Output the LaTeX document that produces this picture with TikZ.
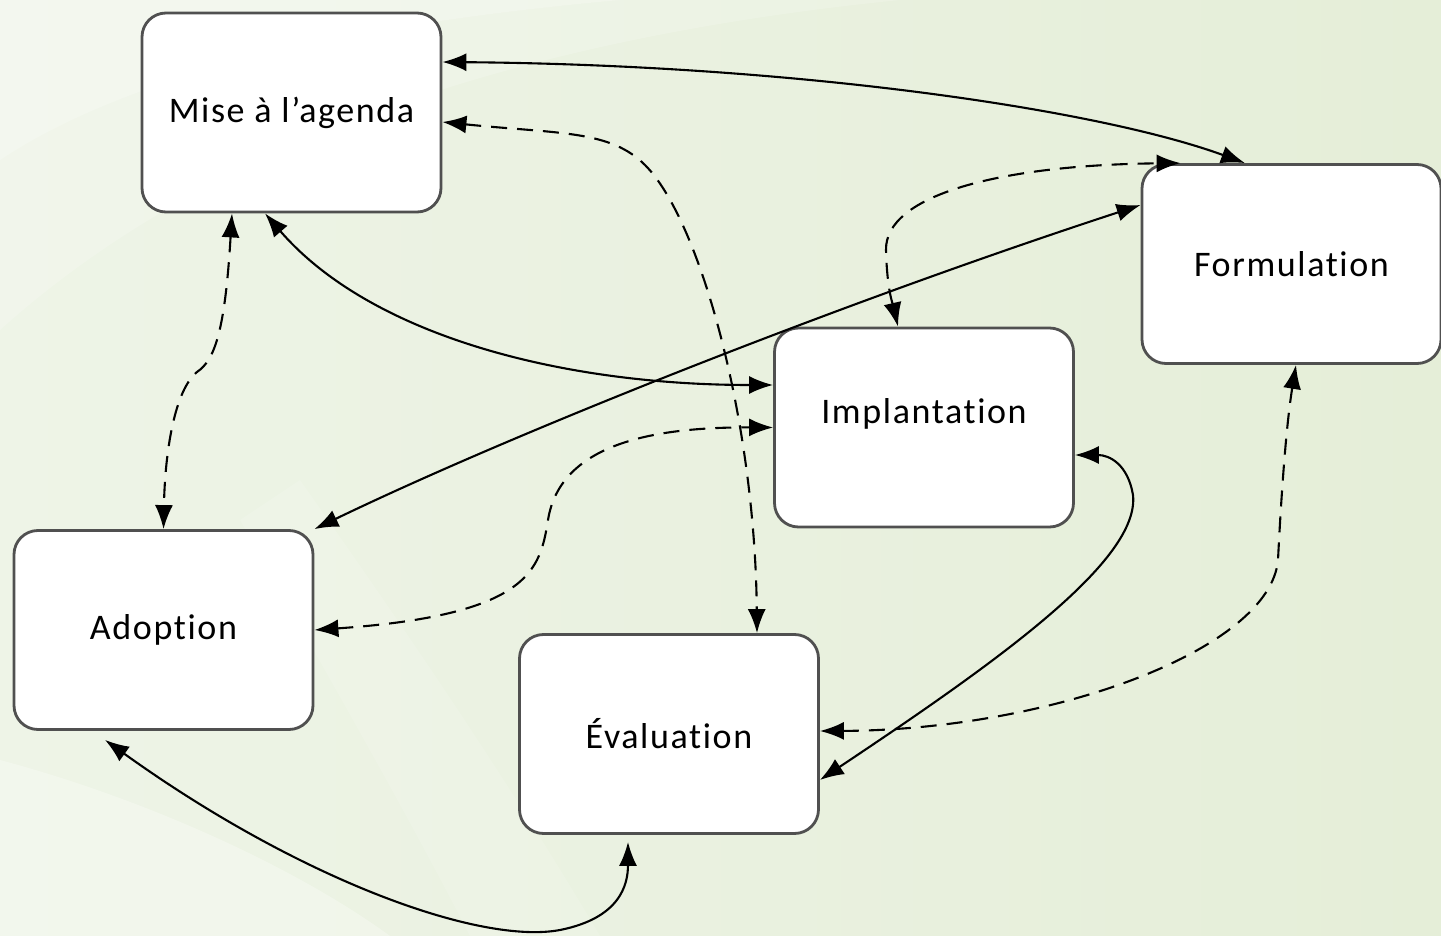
\documentclass[tikz,border=0pt]{standalone}
\usepackage{fontspec}
\setmainfont{Carlito}[LetterSpace=4.5,Ligatures=NoCommon]
\usetikzlibrary{arrows.meta,calc}
\definecolor{bgL}{HTML}{EEF4E7}
\definecolor{bgR}{HTML}{E5EED8}
\definecolor{boxline}{HTML}{505050}
\tikzset{tip/.tip={Latex[length=12pt,width=9pt]}}
\begin{document}
\begin{tikzpicture}[x=0.5pt,y=-0.5pt,
  stage/.style={draw=boxline,line width=1.4pt,fill=white,rounded corners=12pt,
    minimum width=149.5pt,minimum height=99.5pt,inner sep=0pt,
    font=\fontsize{18}{20}\selectfont},
  link/.style={line width=1.05pt,black,{tip}-{tip}},
  dlink/.style={link,dash pattern=on 8pt off 5pt}]
\useasboundingbox (0,0) rectangle (1441,936);
% background
\fill[left color=bgL,right color=bgR] (0,0) rectangle (1441,936);
\fill[white,opacity=0.35] (0,0) -- (620,0) .. controls (400,20) and (150,60) .. (0,160) -- cycle;
\fill[white,opacity=0.18] (0,160) .. controls (150,60) and (400,20) .. (620,0) -- (900,0) .. controls (500,40) and (200,150) .. (0,330) -- cycle;
\fill[white,opacity=0.28] (0,760) .. controls (150,800) and (300,870) .. (390,936) -- (0,936) -- cycle;
\fill[white,opacity=0.12] (300,480) .. controls (420,650) and (520,800) .. (600,936) -- (470,936) .. controls (400,800) and (330,680) .. (240,520) -- cycle;
% boxes
\node[stage] (mise) at (291.5,112.5) {Mise à l’agenda};
\node[stage] (form) at (1291.5,264) {Formulation};
\node[stage,label={[yshift=7pt,font=\fontsize{18}{20}\selectfont]center:Implantation}] (impl) at (924,427.5) {};
\node[stage] (adop) at (163.5,630) {Adoption};
\node[stage] (eval) at (669,734) {Évaluation};
% connectors
\draw[link] ([yshift=25.25pt]mise.east) .. controls (800,65) and (1100,110) .. ([xshift=-23.25pt]form.north);
\draw[dlink] ([yshift=-4.75pt]mise.east) .. controls (560,134) and (610,130) .. (645,165) .. controls (700,220) and (755,420) .. ([xshift=44pt]eval.north);
\draw[link] ([xshift=-13.25pt]mise.south) .. controls (370,335) and (560,385) .. ([yshift=21.25pt]impl.west);
\draw[dlink] ([xshift=-29.75pt]mise.south) .. controls (225,330) and (215,360) .. (197,372) .. controls (175,390) and (165,450) .. (adop.north);
\draw[link] (adop.north east) .. controls (520,430) and (850,300) .. ([yshift=29.5pt]form.west);
\draw[dlink] ([xshift=-13pt]impl.north) .. controls (893,305) and (887,290) .. (886,250) .. controls (885,195) and (1000,165) .. ([xshift=20pt]form.north west);
\draw[dlink] (adop.east) .. controls (530,615) and (540,570) .. (548,520) .. controls (560,445) and (650,427) .. (impl.west);
\draw[link] ([xshift=-29.25pt,yshift=-4.5pt]adop.south) .. controls (300,880) and (480,945) .. (560,930) .. controls (620,918) and (628,885) .. ([xshift=-20.5pt,yshift=-3.5pt]eval.south);
\draw[link] ([yshift=-23pt]eval.east) .. controls (1000,660) and (1140,560) .. (1133,495) .. controls (1128,465) and (1110,455) .. ([yshift=-13.75pt]impl.east);
\draw[dlink] ([yshift=1.5pt]eval.east) .. controls (1050,730) and (1270,650) .. (1278,560) .. controls (1282,480) and (1287,420) .. ([xshift=2.25pt]form.south);
\end{tikzpicture}
\end{document}
